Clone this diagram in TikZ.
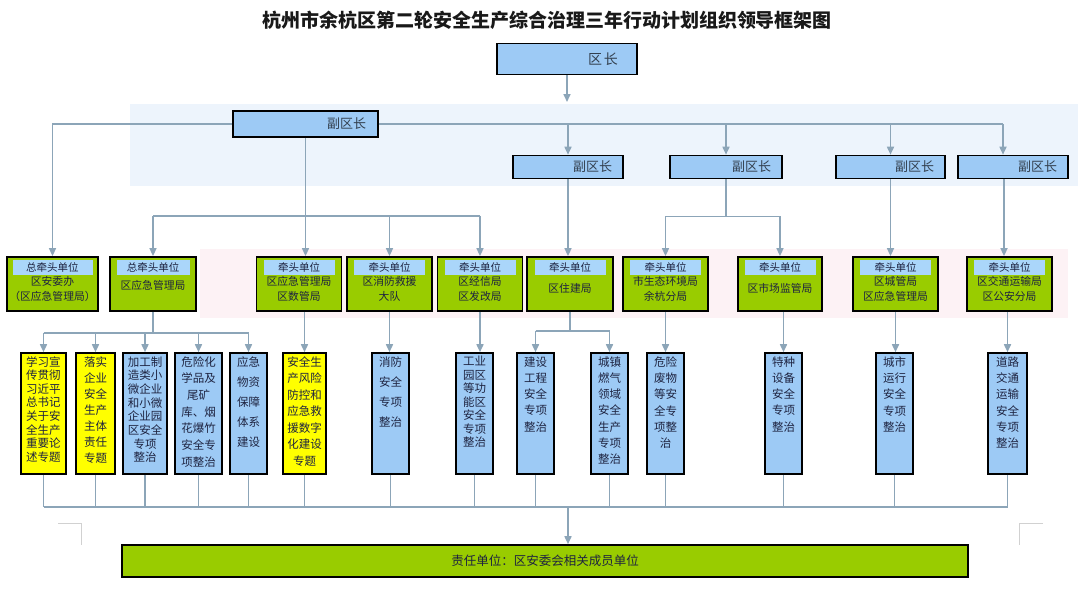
\documentclass[tikz,border=0pt]{standalone}
\usepackage{fontspec}
\setmainfont{Noto Sans CJK SC}
\usetikzlibrary{positioning,arrows.meta}

\definecolor{linkgray}{HTML}{8CA5B8}
\definecolor{boxblue}{HTML}{9DCAF5}
\definecolor{hdblue}{HTML}{AAD6FA}
\definecolor{leadgreen}{HTML}{99CC00}
\definecolor{taskyellow}{HTML}{FFFF00}
\definecolor{bandblue}{HTML}{EDF4FC}
\definecolor{bandpink}{HTML}{FDF2F5}
\definecolor{ink}{HTML}{1E2340}
\definecolor{chiefink}{HTML}{33404F}

\begin{document}
\begin{tikzpicture}[x=1pt, y=-1pt,
  every node/.style={text=ink},
  chief/.style={draw, line width=1.6pt, fill=boxblue, inner ysep=0pt, inner xsep=11pt,
                align=right, minimum height=23pt, text=chiefink,
                font=\fontsize{13}{15}\selectfont},
  lead/.style={draw, line width=1.8pt, fill=leadgreen, minimum width=85pt,
               minimum height=54pt, inner sep=0pt},
  leadhd/.style={fill=hdblue, minimum width=71pt, minimum height=14.5pt, inner sep=0pt,
                 anchor=north, yshift=-4pt, font=\fontsize{10.5}{12}\selectfont},
  leadtx/.style={align=center, inner sep=0pt, yshift=-33pt,
                 font=\fontsize{10.8}{14.5}\selectfont},
  task/.style={draw, line width=1.6pt, fill=boxblue, minimum width=37pt,
               minimum height=121pt, inner sep=0pt},
  tasky/.style={task, fill=taskyellow},
  tasktx/.style={anchor=north, align=center, inner sep=0pt, yshift=-4pt,
                 font=\fontsize{11.5}{16.3}\selectfont},
  link/.style={draw=linkgray, line width=1.6pt},
  arr/.style={link, -{Triangle[length=8pt, width=7pt]}}
]
\useasboundingbox (0,0) rectangle (1080,590);

% background bands
\fill[bandblue] (130,104) rectangle (1078,186);
\fill[bandpink] (200,249) rectangle (1068,318);
\draw[black!18, line width=0.8pt] (58,523) -- (81,523) -- (81,545);
\draw[black!18, line width=0.8pt] (1043,523) -- (1019,523) -- (1019,545);

% title
\node[font=\fontsize{19}{22}\selectfont\bfseries, text=black!90] (title) at (547,20)
  {杭州市余杭区第二轮安全生产综合治理三年行动计划组织领导框架图};

% leaders
\node[chief, text width=102pt, inner xsep=19pt, minimum height=31pt,
      font=\fontsize{14}{16}\selectfont] (qz) at (567,59) {区\hspace{2pt}长};
\coordinate (qzend) at (567,102);
\node[chief, text width=121pt, inner xsep=12pt, minimum height=26pt] (fq) at (305.5,124) {副区长};
\node[chief, text width=88pt]  (v1) at (568,167)   {副区长};
\node[chief, text width=90pt]  (v2) at (726,167)   {副区长};
\node[chief, text width=87pt]  (v3) at (890.5,167) {副区长};
\node[chief, text width=88pt]  (v4) at (1013,167)  {副区长};

% lead units
\node[lead, minimum width=91pt] (g1) at (52.5,284) {};
\node[leadhd, minimum width=80pt] (g1h) at (g1.north) {总牵头单位};
\node[leadtx] (g1t) at (g1.north) {区安委办\\（区应急管理局）};
\node[lead, minimum width=86pt] (g2) at (153,284) {};
\node[leadhd, minimum width=73pt] (g2h) at (g2.north) {总牵头单位};
\node[leadtx, yshift=4pt] (g2t) at (g2.north) {区应急管理局};
\node[lead] (g3) at (299,284) {};
\node[leadhd] (g3h) at (g3.north) {牵头单位};
\node[leadtx] (g3t) at (g3.north) {区应急管理局\\区数管局};
\node[lead] (g4) at (389.5,284) {};
\node[leadhd] (g4h) at (g4.north) {牵头单位};
\node[leadtx] (g4t) at (g4.north) {区消防救援\\大队};
\node[lead] (g5) at (480,284) {};
\node[leadhd] (g5h) at (g5.north) {牵头单位};
\node[leadtx] (g5t) at (g5.north) {区经信局\\区发改局};
\node[lead, minimum width=86pt] (g6) at (570,284) {};
\node[leadhd] (g6h) at (g6.north) {牵头单位};
\node[leadtx, yshift=1pt] (g6t) at (g6.north) {区住建局};
\node[lead] (g7) at (665.5,284) {};
\node[leadhd] (g7h) at (g7.north) {牵头单位};
\node[leadtx] (g7t) at (g7.north) {市生态环境局\\余杭分局};
\node[lead, minimum width=84pt] (g8) at (780,284) {};
\node[leadhd] (g8h) at (g8.north) {牵头单位};
\node[leadtx, yshift=1pt] (g8t) at (g8.north) {区市场监管局};
\node[lead] (g9) at (895.5,284) {};
\node[leadhd] (g9h) at (g9.north) {牵头单位};
\node[leadtx] (g9t) at (g9.north) {区城管局\\区应急管理局};
\node[lead] (g10) at (1009.5,284) {};
\node[leadhd] (g10h) at (g10.north) {牵头单位};
\node[leadtx] (g10t) at (g10.north) {区交通运输局\\区公安分局};

% special tasks
\node[tasky, minimum width=45pt] (b1) at (43.5,413.5) {};
\node[tasktx, font=\fontsize{11.5}{13.6}\selectfont] (b1t) at (b1.north)
  {学习宣\\传贯彻\\习近平\\总书记\\关于安\\全生产\\重要论\\述专题};
\node[tasky, minimum width=39pt] (b2) at (95.5,413.5) {};
\node[tasktx, font=\fontsize{11.5}{16}\selectfont] (b2t) at (b2.north)
  {落实\\企业\\安全\\生产\\主体\\责任\\专题};
\node[task, minimum width=44pt] (b3) at (145,413.5) {};
\node[tasktx, font=\fontsize{11.5}{13.7}\selectfont] (b3t) at (b3.north)
  {加工制\\造类小\\微企业\\和小微\\企业园\\区安全\\专项\\整治};
\node[task, minimum width=47pt] (b4) at (198.5,413.5) {};
\node[tasktx, font=\fontsize{11.5}{16.7}\selectfont] (b4t) at (b4.north)
  {危险化\\学品及\\尾矿\\库、烟\\花爆竹\\安全专\\项整治};
\node[task] (b5) at (248.5,413.5) {};
\node[tasktx, font=\fontsize{11.5}{20}\selectfont] (b5t) at (b5.north)
  {应急\\物资\\保障\\体系\\建设};
\node[tasky, minimum width=43pt] (b6) at (304.5,413.5) {};
\node[tasktx, font=\fontsize{11.5}{16.5}\selectfont] (b6t) at (b6.north)
  {安全生\\产风险\\防控和\\应急救\\援数字\\化建设\\专题};
\node[task] (b7) at (390.5,413.5) {};
\node[tasktx, font=\fontsize{11.5}{20}\selectfont] (b7t) at (b7.north)
  {消防\\安全\\专项\\整治};
\node[task] (b8) at (474.5,413.5) {};
\node[tasktx, font=\fontsize{11.5}{13.5}\selectfont] (b8t) at (b8.north)
  {工业\\园区\\等功\\能区\\安全\\专项\\整治};
\node[task] (b9) at (535.5,413.5) {};
\node[tasktx] (b9t) at (b9.north) {建设\\工程\\安全\\专项\\整治};
\node[task] (b10) at (609.5,413.5) {};
\node[tasktx] (b10t) at (b10.north) {城镇\\燃气\\领域\\安全\\生产\\专项\\整治};
\node[task] (b11) at (665.5,413.5) {};
\node[tasktx] (b11t) at (b11.north) {危险\\废物\\等安\\全专\\项整\\治};
\node[task] (b12) at (783.5,413.5) {};
\node[tasktx] (b12t) at (b12.north) {特种\\设备\\安全\\专项\\整治};
\node[task] (b13) at (894.5,413.5) {};
\node[tasktx] (b13t) at (b13.north) {城市\\运行\\安全\\专项\\整治};
\node[task, minimum width=39pt] (b14) at (1007.5,413.5) {};
\node[tasktx] (b14t) at (b14.north) {道路\\交通\\运输\\安全\\专项\\整治};

% responsible units
\node[draw, line width=1.6pt, fill=leadgreen, minimum width=846pt, minimum height=32pt,
      font=\fontsize{12.5}{14}\selectfont] (resp) at (545,561) {责任单位：区安委会相关成员单位};

% connectors, top part
\draw[arr] (qz.south) -- (qzend);
\draw[arr] (fq.west) -| (g1.north);
\draw[link] (fq.east) -- ([xshift=-10pt]fq.east -| v4.north);
\foreach \v in {v1,v2,v3} \draw[arr] (fq.east -| \v.north) -- (\v.north);
\draw[arr] ([xshift=-10pt]fq.east -| v4.north) -- ([xshift=-10pt]v4.north);

\draw[link] (fq.south) -- ++(0,78) coordinate (fqj);
\draw[link] (g2.north |- fqj) -- (g5.north |- fqj);
\draw[arr] (fqj) -- (fqj |- g3.north);
\foreach \g in {g2,g4,g5} \draw[arr] (\g.north |- fqj) -- (\g.north);

\draw[arr] (v1.south) -- (v1.south |- g6.north);
\draw[link] (v2.south) -- ++(0,37) coordinate (v2j);
\draw[link] (g7.north |- v2j) -- (g8.north |- v2j);
\foreach \g in {g7,g8} \draw[arr] (\g.north |- v2j) -- (\g.north);
\draw[arr] (v3.south) -- (v3.south |- g9.north);
\draw[arr] ([xshift=-9pt]v4.south) -- ([xshift=-9pt]v4.south |- g10.north);

% connectors, lead units to tasks
\draw[link] (g2.south) -- ++(0,21) coordinate (g2j);
\draw[link] (b1.north |- g2j) -- (b5.north |- g2j);
\foreach \b in {b1,b2,b3,b4,b5} \draw[arr] (\b.north |- g2j) -- (\b.north);
\draw[arr] (g3.south -| b6.north) -- (b6.north);
\draw[arr] (g4.south) -- (g4.south |- b7.north);
\draw[arr] (g5.south) -- (g5.south |- b8.north);
\draw[link] (g6.south) -- ++(0,19) coordinate (g6j);
\draw[link] (b9.north |- g6j) -- (b10.north |- g6j);
\foreach \b in {b9,b10} \draw[arr] (\b.north |- g6j) -- (\b.north);
\draw[arr] (g7.south) -- (g7.south |- b11.north);
\draw[arr] (g8.south -| b12.north) -- (b12.north);
\draw[arr] (g9.south) -- (g9.south |- b13.north);
\draw[arr] (g10.south -| b14.north) -- (b14.north);

% connectors, tasks to responsible units
\coordinate (busM) at (568,507);
\foreach \b in {b1,b2,b3,b4,b5,b6,b7,b8,b9,b10,b11,b12,b13,b14}
  \draw[link] (\b.south) -- (\b.south |- busM);
\draw[link] (b1.south |- busM) -- (b14.south |- busM);
\draw[arr] (busM) -- (busM |- resp.north);
\end{tikzpicture}
\end{document}
